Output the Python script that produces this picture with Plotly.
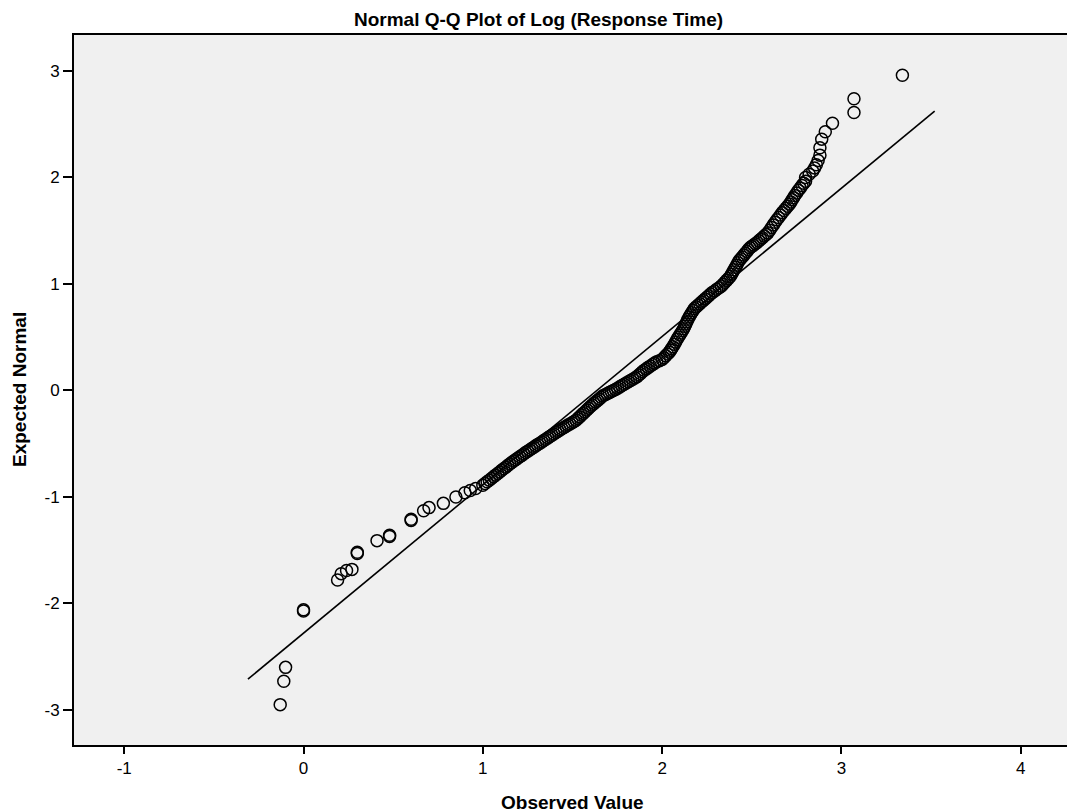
import plotly.graph_objects as go

observed = [
    -0.13, -0.11, -0.10, 0.00, 0.00, 0.19, 0.21, 0.24, 0.27, 0.30, 0.30, 0.41, 0.48, 0.48,
    0.60, 0.60, 0.67, 0.70, 0.78, 0.85, 0.90, 0.93, 0.96, 1.00,
    1.012, 1.024, 1.036, 1.048, 1.060,
    1.071, 1.083, 1.094, 1.105, 1.116, 1.128, 1.139, 1.150,
    1.161, 1.172, 1.183, 1.194, 1.206, 1.217, 1.228, 1.239, 1.250,
    1.261, 1.273, 1.284, 1.295, 1.306, 1.318, 1.329, 1.340,
    1.351, 1.363, 1.374, 1.385, 1.396, 1.408, 1.419, 1.430,
    1.441, 1.453, 1.464, 1.475, 1.486, 1.498, 1.509, 1.520,
    1.530, 1.540, 1.550, 1.560, 1.570, 1.580, 1.590, 1.600,
    1.610, 1.620, 1.630, 1.640, 1.650, 1.660, 1.670,
    1.682, 1.693, 1.705, 1.717, 1.728, 1.740,
    1.752, 1.764, 1.776, 1.788, 1.800,
    1.812, 1.824, 1.836, 1.848, 1.860,
    1.870, 1.880, 1.890, 1.900,
    1.912, 1.923, 1.935, 1.947, 1.958, 1.970,
    1.985, 2.000,
    2.010, 2.020, 2.030, 2.040,
    2.047, 2.053, 2.060,
    2.068, 2.075, 2.083, 2.090,
    2.098, 2.105, 2.113, 2.120,
    2.126, 2.132, 2.138, 2.144, 2.150,
    2.158, 2.165, 2.173, 2.180,
    2.190, 2.200, 2.210, 2.220,
    2.230, 2.240, 2.250, 2.260, 2.270, 2.280,
    2.293, 2.305, 2.318, 2.330,
    2.340, 2.350, 2.360, 2.370, 2.380,
    2.387, 2.394, 2.401, 2.409, 2.416, 2.423, 2.430,
    2.439, 2.447, 2.456, 2.464, 2.473, 2.481, 2.490,
    2.500, 2.510, 2.520, 2.530,
    2.540, 2.550, 2.560, 2.570, 2.580, 2.590,
    2.600, 2.610, 2.620, 2.630, 2.640, 2.650, 2.660, 2.670, 2.680, 2.690,
    2.700, 2.710, 2.718, 2.725, 2.733, 2.740, 2.750, 2.760, 2.770, 2.780,
    2.790, 2.800, 2.800, 2.820, 2.840, 2.850, 2.860, 2.870, 2.880, 2.880,
    2.890, 2.910, 2.950, 3.070, 3.070, 3.340,
]
expected = [
    -2.95, -2.73, -2.60, -2.07, -2.06, -1.78, -1.72, -1.69, -1.68, -1.53, -1.52, -1.41, -1.37, -1.36,
    -1.22, -1.21, -1.13, -1.10, -1.06, -1.00, -0.96, -0.94, -0.92, -0.89,
    -0.874, -0.858, -0.842, -0.826, -0.810,
    -0.795, -0.780, -0.765, -0.750, -0.735, -0.720, -0.705, -0.690,
    -0.677, -0.663, -0.650, -0.637, -0.623, -0.610, -0.597, -0.583, -0.570,
    -0.558, -0.545, -0.533, -0.520, -0.508, -0.495, -0.483, -0.470,
    -0.458, -0.445, -0.433, -0.420, -0.408, -0.395, -0.383, -0.370,
    -0.359, -0.348, -0.336, -0.325, -0.314, -0.303, -0.291, -0.280,
    -0.264, -0.248, -0.231, -0.215, -0.199, -0.183, -0.166, -0.150,
    -0.136, -0.121, -0.107, -0.093, -0.079, -0.064, -0.050,
    -0.040, -0.030, -0.020, -0.010, 0.000, 0.010,
    0.022, 0.034, 0.046, 0.058, 0.070,
    0.082, 0.094, 0.106, 0.118, 0.130,
    0.145, 0.160, 0.175, 0.190,
    0.203, 0.217, 0.230, 0.243, 0.257, 0.270,
    0.280, 0.290,
    0.308, 0.325, 0.343, 0.360,
    0.377, 0.393, 0.410,
    0.433, 0.455, 0.478, 0.500,
    0.520, 0.540, 0.560, 0.580,
    0.602, 0.624, 0.646, 0.668, 0.690,
    0.710, 0.730, 0.750, 0.770,
    0.785, 0.800, 0.815, 0.830,
    0.845, 0.860, 0.875, 0.890, 0.905, 0.920,
    0.935, 0.950, 0.965, 0.980,
    0.998, 1.016, 1.034, 1.052, 1.070,
    1.091, 1.113, 1.134, 1.156, 1.177, 1.199, 1.220,
    1.237, 1.254, 1.271, 1.289, 1.306, 1.323, 1.340,
    1.353, 1.365, 1.378, 1.390,
    1.405, 1.420, 1.435, 1.450, 1.465, 1.480,
    1.505, 1.530, 1.555, 1.580, 1.603, 1.625, 1.648, 1.670, 1.690, 1.710,
    1.730, 1.750, 1.770, 1.790, 1.810, 1.830, 1.855, 1.880, 1.900, 1.925,
    1.945, 1.965, 2.000, 2.030, 2.060, 2.090, 2.120, 2.160, 2.210, 2.280,
    2.360, 2.430, 2.510, 2.610, 2.740, 2.960,
]

# Reference line: expected = (observed - mean) / sd
line_mean = 1.636
line_sd = 0.718
line_x = [-0.31, 3.52]
line_y = [(v - line_mean) / line_sd for v in line_x]

x_ticks = [-1, 0, 1, 2, 3, 4]
y_ticks = [-3, -2, -1, 0, 1, 2, 3]

fig = go.Figure()
fig.add_trace(go.Scatter(
    x=line_x, y=line_y, mode="lines",
    line=dict(color="black", width=1.6), hoverinfo="skip", showlegend=False,
))
fig.add_trace(go.Scatter(
    x=observed, y=expected, mode="markers",
    marker=dict(symbol="circle-open", size=12, color="black", line=dict(width=1.5)),
    showlegend=False,
))

font_family = "Liberation Sans, Arial, sans-serif"

fig.update_layout(
    width=1067, height=812,
    margin=dict(l=74, r=0, t=35, b=67),
    paper_bgcolor="white",
    plot_bgcolor="#f0f0f0",
    font=dict(family=font_family, size=17, color="black"),
    xaxis=dict(
        range=[-1.28, 4.258], tickvals=x_ticks, ticktext=[str(v) for v in x_ticks],
        showgrid=False, zeroline=False, showline=True, linecolor="black", linewidth=2,
        mirror=True, ticks="outside", ticklen=7, tickwidth=2, tickcolor="black",
        tickfont=dict(size=17),
    ),
    yaxis=dict(
        range=[-3.329, 3.338], tickvals=y_ticks, ticktext=[str(v) for v in y_ticks],
        showgrid=False, zeroline=False, showline=True, linecolor="black", linewidth=2,
        ticks="outside", ticklen=9, tickwidth=2, tickcolor="black",
        tickfont=dict(size=17),
    ),
    annotations=[
        dict(text="<b>Normal Q-Q Plot of Log (Response Time)</b>",
             x=(538 - 74) / 993, y=(745 - 19) / 710,
             xref="paper", yref="paper", xanchor="center", yanchor="middle",
             showarrow=False, font=dict(size=19, family=font_family)),
        dict(text="<b>Observed Value</b>", x=(572 - 74) / 993, y=(745 - 802) / 710,
             xref="paper", yref="paper", xanchor="center", yanchor="middle",
             showarrow=False, font=dict(size=19, family=font_family)),
        dict(text="<b>Expected Normal</b>", x=(19 - 74) / 993, y=(745 - 390) / 710,
             xref="paper", yref="paper", xanchor="center", yanchor="middle", textangle=-90,
             showarrow=False, font=dict(size=19, family=font_family)),
    ],
)

fig.write_html("out.html")
